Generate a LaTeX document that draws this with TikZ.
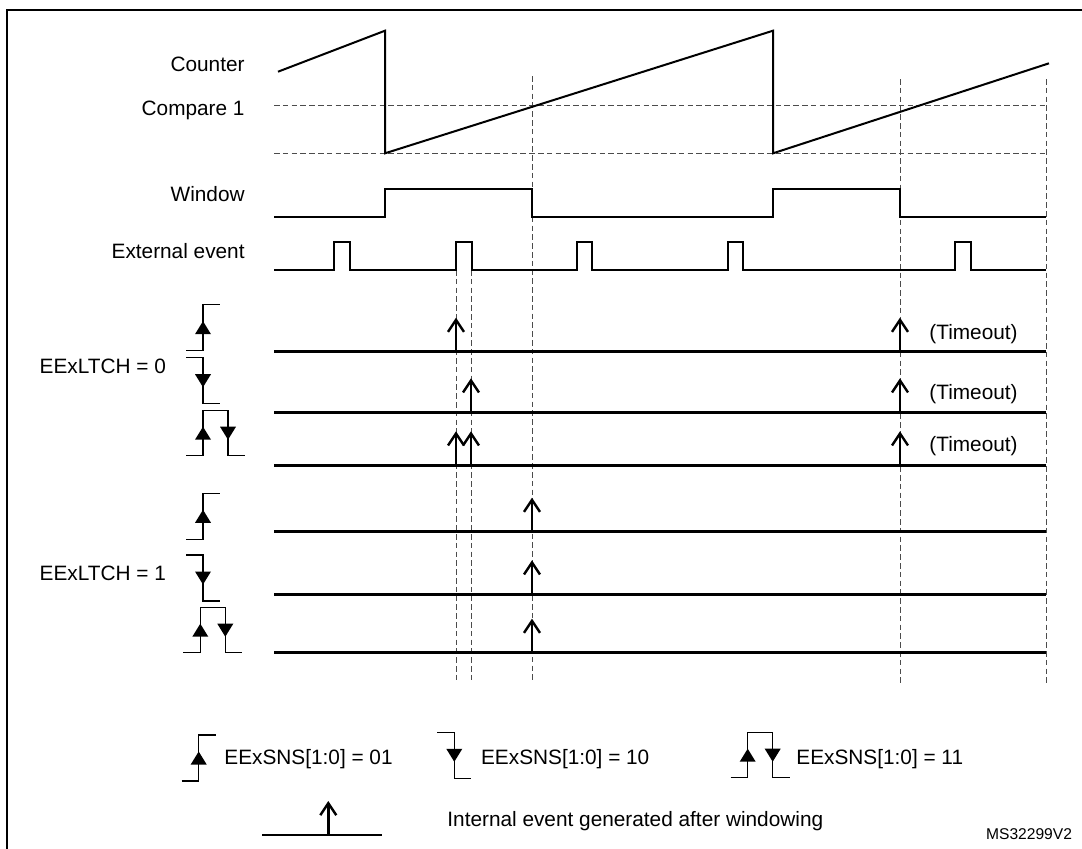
\documentclass[tikz,border=0pt]{standalone}
\usepackage{fontspec}
\setmainfont{Liberation Sans}
\usetikzlibrary{arrows.meta}

\begin{document}
\begin{tikzpicture}[x=0.5pt,y=-0.5pt,
  every node/.style={font=\fontsize{10.4}{12}\selectfont,inner sep=0pt},
  wave/.style={line width=1pt,line join=miter},
  base/.style={line width=1.25pt},
  grid/.style={draw=black!70,line width=0.5pt,dash pattern=on 2.8pt off 1.6pt},
  sym/.style={line width=0.55pt},
  evt/.style={-{Straight Barb[length=6pt,width=8pt]},line width=1.2pt},
  % edge symbols, origin at the free end of the first horizontal
  rise/.pic={\draw[sym] (0,0) -- (17,0) -- (17,-46) -- (34,-46);
             \fill (17,-29.5) -- (9,-16.5) -- (25,-16.5) -- cycle;},
  fall/.pic={\draw[sym] (0,0) -- (17,0) -- (17,46) -- (34,46);
             \fill (17,29.5) -- (9,16.5) -- (25,16.5) -- cycle;},
  both/.pic={\draw[sym] (0,0) -- (17,0) -- (17,-45) -- (42,-45) -- (42,0) -- (59,0);
             \fill (17,-29) -- (9,-16) -- (25,-16) -- cycle;
             \fill (42,-16) -- (34,-29) -- (50,-29) -- cycle;}]

\useasboundingbox (0,0) rectangle (1082,848);
\clip (0,0) rectangle (1082,848);
\draw[line width=1.1pt] (6.7,870) -- (6.7,10) -- (1100,10);

% reference levels and time marks
\foreach \y in {105.7,153.3} \draw[grid] (274,\y) -- (1046,\y);
\foreach \x/\t in {456/270,471/270,532/76,900/79,1046/79} \draw[grid] (\x,\t) -- (\x,683);

% signals
\draw[wave] (278,71.7) -- (385,30.7) -- (385,153.3) -- (773,30.7) -- (773,153.3) -- (1049,63.3);
\draw[wave] (274,216.7) -- (385,216.7) -- (385,189) -- (532,189) -- (532,216.7)
  -- (773,216.7) -- (773,189) -- (900,189) -- (900,216.7) -- (1046,216.7);
\draw[wave] (274,270) foreach \a/\b in {334/350,456/471.5,576.7/592,728.3/743.3,955/970.7}
  { -- (\a,270) -- (\a,241.7) -- (\b,241.7) -- (\b,270) } -- (1046,270);

\node[anchor=base east] (lcnt) at (245,71.7) {Counter};
\node[anchor=base east] (lcmp) at (245,115) {Compare 1};
\node[anchor=base east] (lwin) at (245,201) {Window};
\node[anchor=base east] (lext) at (245,258.3) {External event};

% latched outputs
\foreach \y in {351.7,412.3,465.3,531.7,594.3,652.7} \draw[base] (274,\y) -- (1046,\y);
\foreach \x/\y in {456/351.7,900/351.7,471/412.3,900/412.3,456/465.3,471/465.3,900/465.3,
  532/531.7,532/594.3,532/652.7}
  \draw[evt] (\x,\y) -- ++(0,-34);

\node[anchor=base west] (ltch0) at (39.3,373.3) {EExLTCH = 0};
\node[anchor=base west] (ltch1) at (39.3,580) {EExLTCH = 1};
\pic at (186,350.7) {rise};
\pic at (186,357.7) {fall};
\pic at (186,455.7) {both};
\pic at (186,539.3) {rise};
\pic at (186,555) {fall};
\pic at (183.3,652.7) {both};

\foreach \y [count=\i] in {339.3,399.3,451.5}
  \node[anchor=base west] (tmo\i) at (929,\y) {(Timeout)};

% legend
\pic at (181.7,781) {rise};
\pic at (437.3,732.3) {fall};
\pic at (730.7,777.7) {both};
\node[anchor=base west] (sns1) at (224,764) {EExSNS[1:0] = 01};
\node[anchor=base west] (sns2) at (480.7,764) {EExSNS[1:0] = 10};
\node[anchor=base west] (sns3) at (796,764) {EExSNS[1:0] = 11};
\draw[base] (262.3,835) -- (382.3,835);
\draw[evt] (328.3,835) -- ++(0,-34);
\node[anchor=base west] (lint) at (447,826.7) {Internal event generated after windowing};
\node[anchor=base west,font=\fontsize{7.8}{9}\selectfont] (ref) at (985.7,839) {MS32299V2};
\end{tikzpicture}
\end{document}
